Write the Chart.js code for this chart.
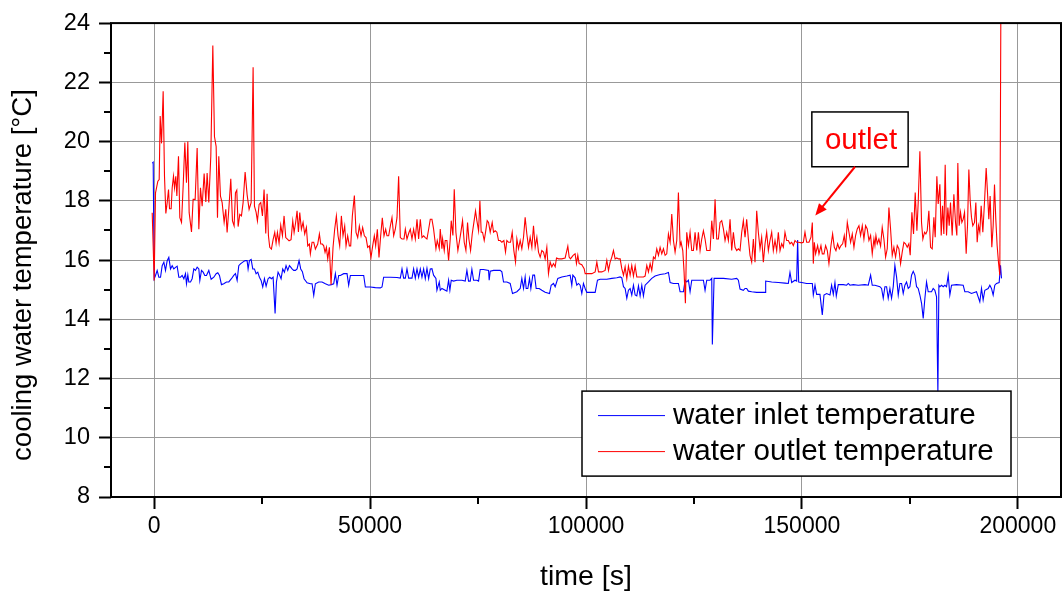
<!DOCTYPE html>
<html>
<head>
<meta charset="utf-8">
<script src="https://cdn.jsdelivr.net/npm/chart.js@4.4.1/dist/chart.umd.min.js"></script>
<style>
  html, body { margin:0; padding:0; background:#fff; }
</style>
</head>
<body>
<canvas id="tempChart" width="1063" height="596"></canvas>
<script>
// ===============================
// DATA
// ===============================
const outletTime = [
  -460,0,310,850,1160,1390,1700,2080,2390,2700,3010,3320,3550,3930,4170,4470,4710,5010,5250,5630,
  5940,6330,6710,7100,7480,7790,8100,8640,9020,9490,9950,10340,10720,11110,11570,11960,12260,12650,13110,13580,
  13960,14350,14660,14960,15350,15740,16200,16580,16890,17280,17740,18130,18510,18820,19130,19440,19820,20210,20590,21060,
  21520,21980,22450,22910,23220,23600,23910,24300,24680,25070,25450,25840,26150,26460,26760,27150,27540,27920,28230,28540,
  28920,29310,29700,30080,30470,30850,31240,31700,32090,32400,32780,33090,33400,33710,34090,34480,34860,35250,35560,35940,
  36170,36560,36950,37330,37870,38260,38570,38950,39260,39570,39880,40190,40570,40960,41420,41800,42190,42580,42960,43350,
  43730,44120,44430,44810,45200,45510,45890,46360,46740,47130,47510,47900,48280,48670,49060,49440,49830,50210,50600,50980,
  51290,51680,52060,52450,52830,53220,53610,53910,54300,54690,55070,55460,55840,56230,56610,57000,57390,57850,58160,58540,
  59000,59310,59700,60080,60470,60860,61240,61630,62010,62400,62780,63170,63560,63940,64320,64700,65250,65550,66020,66250,
  66630,66790,67170,67400,67790,68180,68560,68790,69180,69490,69870,70330,70720,71030,71410,71800,72190,72570,72880,73270,
  73650,74040,74420,74730,75120,75430,75730,76040,76430,76740,77120,77430,77820,78280,78590,78970,79360,79740,80130,80520,
  80980,81360,81670,82060,82520,82910,83290,83680,83990,84370,84760,85140,85530,85910,86300,86690,87070,87460,87840,88230,
  88620,89000,89390,89770,90160,90540,90930,91310,91700,92090,92470,92860,93170,93630,94400,95170,95790,96100,96400,96710,
  97020,97480,97790,98100,98410,99030,99570,99810,100580,101350,102120,102510,102890,103660,104430,104820,105210,105590,105980,106360,
  106750,107130,107520,107910,108290,108680,109060,109450,109830,110220,110600,110990,111380,111760,112530,113300,113690,114080,114460,114850,
  115230,115620,116000,116390,116780,117160,117550,117930,118320,118700,119090,119480,119860,120250,120630,121020,121400,121790,122020,122410,
  122710,123020,123330,123720,124100,124490,124870,125260,125650,126030,126420,126800,127190,127570,127960,128350,128730,129120,129500,129890,
  130270,130660,131040,131430,131820,132200,132590,132970,133360,133740,134130,134510,134900,135290,135670,136060,136440,136830,137210,137600,
  137980,138370,138760,139140,139530,139910,140300,140680,141070,141460,141840,142230,142610,143000,143380,143770,144160,144540,144930,145310,
  145700,146080,146470,146850,147240,147630,148010,148400,148780,149170,149940,150330,150710,151100,151640,152100,152410,152640,152870,153180,
  153640,153950,154410,154720,155110,155490,155880,156260,156730,157110,157500,157880,158270,158660,159040,159430,159810,160120,160510,160890,
  161280,161660,162050,162440,162820,163210,163590,163980,164360,164750,165130,165520,165910,166290,166680,166910,167140,167450,167830,168220,
  168600,168990,169380,169760,170150,170530,170920,171300,171690,172080,172460,172850,173230,173620,174000,174390,174770,175080,175470,175850,
  176240,176630,176930,177320,177700,178010,178400,178710,179020,179400,179790,180170,180560,180870,181250,181560,181950,182260,182560,182870,
  183180,183490,183800,184110,184410,184800,185190,185570,185880,186110,186420,186730,187040,187350,187660,188040,188350,188660,188970,189270,
  189580,189970,190280,190590,190890,191200,191510,191900,192280,192670,192980,193280,193590,193980,194290,194600,194900,195210,195520,195830,
  196060
];
const outletTemp = [
  17.60,15.31,18.27,18.66,18.72,20.86,19.94,21.70,18.83,17.57,17.94,18.38,17.73,17.73,18.44,18.83,18.44,18.83,18.16,19.50,
  17.43,17.27,18.49,19.97,18.61,20.00,17.60,16.95,18.05,18.05,19.78,17.04,18.44,17.82,18.92,17.96,18.94,17.94,19.50,23.24,
  20.17,19.83,17.43,19.50,18.16,17.94,17.27,17.71,16.93,17.71,18.74,17.32,17.15,18.27,18.36,17.13,17.54,17.49,17.94,18.97,
  18.21,17.71,17.94,22.51,17.82,17.62,17.32,17.88,17.94,17.49,18.38,16.90,18.24,16.82,16.43,16.37,16.69,16.93,16.57,16.93,
  16.57,17.18,16.82,17.49,16.76,16.71,16.65,16.69,17.32,16.93,17.29,17.66,16.95,17.60,17.04,17.27,16.88,17.10,16.48,16.54,
  16.21,16.60,16.60,16.37,16.54,16.88,16.54,16.54,16.48,16.26,16.43,16.04,16.43,15.17,16.43,17.04,17.49,16.82,16.48,17.49,
  16.82,17.15,16.48,16.82,16.48,16.48,17.49,18.18,16.93,16.76,17.15,16.82,17.10,16.82,16.76,16.43,16.48,16.09,16.48,16.82,
  16.48,17.04,16.09,16.82,17.43,16.82,17.04,16.82,16.82,17.15,17.43,16.82,17.04,17.43,18.83,16.76,16.71,16.71,17.04,16.71,
  16.93,17.04,16.71,17.04,16.71,17.38,16.71,17.38,16.76,16.82,16.76,16.71,17.04,17.38,17.38,17.05,16.38,16.66,16.38,17.05,
  16.38,16.71,16.32,16.66,16.66,15.99,16.71,17.33,16.83,18.39,16.94,16.32,16.66,16.94,17.33,16.60,16.32,17.27,16.71,16.32,
  16.88,17.27,17.66,17.33,16.99,18.00,16.94,16.94,16.66,16.94,17.33,17.27,16.94,17.27,16.94,16.99,16.94,16.66,16.66,16.60,
  16.66,16.27,16.66,16.60,16.60,16.94,16.32,15.93,16.71,16.38,16.66,16.38,16.77,17.44,16.88,16.43,16.77,16.43,17.16,16.43,
  16.77,16.27,16.10,16.32,16.27,16.04,16.43,15.54,15.93,15.77,15.88,15.77,16.07,16.04,16.04,16.07,16.47,16.10,16.04,16.10,
  16.16,16.21,15.88,16.16,15.88,15.84,15.71,15.54,15.54,15.54,15.60,15.93,15.60,15.60,15.65,15.99,15.65,15.93,16.10,16.32,
  16.04,16.07,16.04,16.04,15.71,15.49,15.77,15.37,15.80,15.49,15.82,15.46,15.80,15.43,15.43,15.43,15.46,15.82,15.60,15.88,
  15.65,16.10,16.04,16.38,16.16,16.43,16.21,16.38,16.16,16.21,16.88,16.60,17.55,16.66,16.27,16.66,18.28,16.49,16.60,16.32,
  15.60,14.54,16.94,16.49,16.94,16.32,16.32,16.94,16.32,16.94,16.32,16.71,16.99,16.71,16.32,16.32,16.32,17.33,16.71,18.05,
  16.71,16.71,17.27,17.33,17.05,16.66,16.94,16.66,17.38,16.32,16.94,16.43,16.32,16.38,16.32,16.94,17.33,16.77,17.38,16.71,
  16.16,15.93,16.71,15.93,17.66,16.94,16.38,16.77,15.93,16.55,16.94,16.32,16.66,16.94,16.32,16.66,16.32,16.94,16.32,16.55,
  16.43,16.94,16.66,16.66,16.55,16.60,16.49,16.66,16.60,16.60,16.58,16.60,16.94,16.60,16.60,16.77,17.27,15.88,16.60,16.21,
  16.49,16.21,16.49,16.21,16.21,16.49,16.32,15.88,16.49,16.88,16.43,16.32,16.55,16.38,16.49,16.55,16.83,16.43,17.27,16.94,
  16.60,16.88,16.43,16.83,17.05,17.16,16.83,17.16,16.71,17.16,17.05,16.66,16.83,16.21,16.71,16.49,16.83,16.55,16.71,16.47,
  17.10,16.71,16.10,16.38,17.77,17.05,16.16,16.43,16.10,16.49,16.38,15.88,16.27,16.60,16.55,16.43,16.55,16.16,17.61,16.88,
  18.28,16.99,17.94,19.67,17.27,16.71,16.94,16.88,16.99,17.66,16.43,16.38,17.44,16.77,18.83,17.89,18.56,16.83,17.83,16.88,
  19.22,16.83,17.77,17.16,17.94,16.83,18.22,17.27,16.83,19.28,17.16,17.61,17.27,17.38,17.61,16.21,17.16,19.06,18.00,17.44,
  17.16,17.27,17.94,16.60,17.16,16.94,17.83,16.94,17.94,19.11,18.28,17.38,18.16,16.43,17.16,18.55,17.38,16.49,15.93,15.49,
  24.00
];

const inletTime = [
  -460,-230,0,310,690,1080,1470,1850,2240,2620,3010,3390,3780,4170,4550,5010,5320,5710,6090,6480,
  6870,7250,7480,7790,8020,8410,8790,9180,9560,9950,10340,10570,10950,11340,11720,12110,12650,13190,13810,14350,
  14730,15120,15580,16120,16740,17280,17890,18430,18820,19210,19590,19980,20520,21060,21520,21750,22060,22450,22830,23220,
  23600,23990,24370,24760,25140,25530,25920,26380,26760,27150,27540,28000,28310,28690,29080,29390,29770,30160,30540,30930,
  31320,31620,31930,32320,32700,33090,33550,33940,34320,34710,35400,36170,36560,36950,37330,38100,38870,39650,40420,41030,
  41570,41960,42340,42730,43120,43890,44660,45040,45430,46200,47740,48520,48900,50060,51210,52370,52760,53140,54690,56230,
  57000,57390,57770,58160,58540,58930,59700,60080,60470,60860,61240,61630,62010,62400,62780,63170,63560,63940,64320,64700,
  65250,65480,66020,66250,66630,67400,67790,68180,68480,68790,69330,70100,71260,72030,72420,72800,73190,73570,73960,74730,
  75120,75500,76270,77430,77580,77820,78590,80130,80520,80900,81670,82440,82980,83990,84760,85140,85530,85910,86150,86530,
  86920,87230,87690,88080,88460,89160,89770,90540,91550,91930,92470,92860,93470,94400,95560,96330,96710,96950,97480,97870,
  98260,98640,99030,99410,99800,100190,100960,102120,102660,103280,104820,105980,107130,107910,108290,108680,109060,109450,109830,110220,
  110600,110990,111380,111760,112150,112530,112920,113300,113690,114460,115230,116000,117160,118320,119090,119480,120250,121400,121790,122560,
  122950,123330,123720,124100,124490,125650,127190,127570,127960,128730,129120,129260,129660,131820,133740,134900,135290,135670,136440,136830,
  137210,137600,138370,139530,141460,141610,143000,144540,146080,146850,147240,147630,148400,148780,149010,149250,149940,151100,152410,152640,
  153030,153410,154180,154720,155110,155720,156500,156880,157270,157650,157960,158420,159580,160350,160740,161120,161900,163050,164590,165370,
  165910,166290,166910,168060,168450,168840,169220,169610,169990,170380,170760,171150,171530,171920,172310,172690,173080,173460,173850,174230,
  174620,175010,175390,175780,176160,176550,176930,177320,177710,178090,178480,178860,179250,180020,180400,180790,181180,181490,181720,181950,
  182330,182720,183100,183490,183880,184260,184650,185800,187350,187730,188500,189270,190430,191200,191590,191970,192360,193130,193520,193900,
  194290,194670,195060,195680,195990,196220
];
const inletTemp = [
  19.27,19.30,15.37,15.48,15.65,15.42,15.42,15.81,15.93,15.65,15.98,16.09,15.70,15.81,15.70,15.76,15.79,15.42,15.42,15.48,
  15.37,15.54,15.20,15.50,15.26,15.26,15.37,15.70,15.65,15.76,15.70,15.31,15.65,15.59,15.48,15.48,15.65,15.35,15.42,15.54,
  15.57,15.48,15.17,15.20,15.26,15.26,15.37,15.48,15.54,15.31,15.81,15.87,15.93,15.98,15.98,15.70,15.98,16.02,15.70,15.70,
  15.54,15.59,15.42,15.31,15.09,15.37,15.12,15.37,15.42,15.37,15.42,14.20,15.26,15.59,15.48,15.37,15.70,15.59,15.81,15.65,
  15.81,15.76,15.70,15.65,15.65,15.70,15.98,15.70,15.61,15.37,15.23,15.20,15.20,14.81,15.20,15.26,15.26,15.20,15.15,15.17,
  15.20,15.54,15.15,15.48,15.48,15.54,15.54,15.15,15.48,15.48,15.48,15.48,15.09,15.09,15.07,15.06,15.09,15.42,15.42,15.41,
  15.39,15.70,15.39,15.39,15.70,15.39,15.39,15.70,15.39,15.70,15.42,15.70,15.42,15.70,15.37,15.72,15.37,15.70,15.71,15.49,
  15.38,14.98,15.26,14.98,15.04,14.98,14.95,15.32,14.98,15.32,15.29,15.32,15.32,15.29,15.65,15.29,15.29,15.69,15.32,15.32,
  15.29,15.68,15.68,15.65,15.32,15.62,15.65,15.65,15.60,15.26,15.26,15.21,14.87,14.93,15.04,15.38,15.04,15.43,15.04,15.04,
  15.38,15.04,15.49,15.49,15.04,15.04,14.98,14.91,14.87,15.15,15.21,15.10,15.38,15.43,15.46,15.49,15.15,15.49,15.40,15.15,
  15.21,15.15,14.87,15.21,15.04,14.91,14.91,14.91,15.32,15.35,15.35,15.38,15.40,15.43,15.40,15.10,15.04,14.71,14.98,15.04,
  14.82,15.15,14.82,14.79,15.13,14.79,15.15,14.79,15.15,15.26,15.38,15.46,15.51,15.54,15.58,15.24,15.21,15.21,14.93,14.93,
  15.32,15.26,15.32,14.93,15.32,15.32,15.32,14.98,15.32,15.32,15.38,13.15,15.38,15.38,15.35,15.38,15.32,15.02,14.98,15.04,
  15.04,14.95,14.93,14.91,14.91,15.29,15.26,15.24,15.22,15.21,15.58,15.24,15.32,15.29,16.68,15.26,15.24,15.21,15.21,14.82,
  15.15,14.84,14.84,14.15,14.82,14.87,14.82,15.15,14.84,15.24,14.79,15.17,15.17,15.15,15.21,15.15,15.17,15.15,15.17,15.15,
  15.49,15.15,15.15,15.10,15.04,14.71,15.10,15.10,14.71,15.04,14.71,15.10,15.82,15.43,14.82,15.21,15.21,14.87,15.15,15.26,
  15.04,15.10,15.49,15.62,15.49,15.10,15.04,14.82,14.54,14.03,14.71,15.26,14.93,14.93,15.04,14.98,14.76,11.50,15.15,15.10,
  15.15,15.10,15.15,15.10,15.49,14.82,15.15,15.17,15.15,14.93,14.93,14.87,14.93,14.59,15.04,14.65,14.98,15.04,15.15,15.04,
  14.82,15.15,15.21,15.24,15.82,15.38
];

const xTicks = [0, 50000, 100000, 150000, 200000];
const xMinor = [25000, 75000, 125000, 175000];
const yTicks = [8, 10, 12, 14, 16, 18, 20, 22, 24];
const yMinor = [9, 11, 13, 15, 17, 19, 21, 23];

const seriesNames = ['water inlet temperature', 'water outlet temperature'];
const yTitle = 'cooling water temperature [°C]';
const xTitle = 'time [s]';
const noteText = 'outlet';

// ===============================
// HELPERS
// ===============================
function toPoints(xs, ys){
  return xs.map((x, i) => ({ x: x, y: ys[i] }));
}

const FONT = '"Liberation Sans", Arial, sans-serif';
Chart.defaults.font.family = FONT;
Chart.defaults.color = '#000';

// annotation box + arrow, in data units
const note = {
  x0: 152300, x1: 174600, yTop: 21.0, yBottom: 19.15,
  fromX: 162300, fromY: 19.15, toX: 153100, toY: 17.5
};

// ===============================
// PLUGIN: frame, minor ticks, legend, note, y title
// ===============================
const decorPlugin = {
  id: 'decor',
  afterDraw(chart){
    const { ctx, chartArea: a, scales: { x, y } } = chart;
    ctx.save();

    // y axis title (a bit below the axis centre, as in the original)
    ctx.save();
    ctx.translate(23, (a.top + a.bottom) / 2 + 15);
    ctx.rotate(-Math.PI / 2);
    ctx.fillStyle = '#000';
    ctx.font = '27.5px ' + FONT;
    ctx.textAlign = 'center';
    ctx.textBaseline = 'middle';
    ctx.fillText(yTitle, 0, 0);
    ctx.restore();

    // legend box
    const lx = a.left + 471, ly = a.top + 368, lw = 429, lh = 85;
    ctx.fillStyle = '#fff';
    ctx.fillRect(lx, ly, lw, lh);
    ctx.strokeStyle = '#000';
    ctx.lineWidth = 1.5;
    ctx.strokeRect(lx, ly, lw, lh);

    const legendColors = ['#0000ff', '#ff0000'];
    seriesNames.forEach((name, i) => {
      const rowY = ly + 24 + i * 36;
      ctx.strokeStyle = legendColors[i];
      ctx.lineWidth = 1;
      ctx.beginPath();
      ctx.moveTo(lx + 16, rowY + 0.5);
      ctx.lineTo(lx + 83, rowY + 0.5);
      ctx.stroke();
      ctx.fillStyle = '#000';
      ctx.font = '29.6px ' + FONT;
      ctx.textBaseline = 'alphabetic';
      ctx.textAlign = 'left';
      ctx.fillText(name, lx + 91, rowY + 9);
    });

    // note box "outlet"
    const bx0 = x.getPixelForValue(note.x0), bx1 = x.getPixelForValue(note.x1);
    const by0 = y.getPixelForValue(note.yTop), by1 = y.getPixelForValue(note.yBottom);
    ctx.fillStyle = '#fff';
    ctx.fillRect(bx0, by0, bx1 - bx0, by1 - by0);
    ctx.strokeStyle = '#000';
    ctx.lineWidth = 1.5;
    ctx.strokeRect(bx0, by0, bx1 - bx0, by1 - by0);
    ctx.fillStyle = '#ff0000';
    ctx.font = '29.5px ' + FONT;
    ctx.textAlign = 'center';
    ctx.fillText(noteText, (bx0 + bx1) / 2 + 1, by0 + 37);

    // arrow
    const ax0 = x.getPixelForValue(note.fromX), ay0 = y.getPixelForValue(note.fromY);
    const ax1 = x.getPixelForValue(note.toX), ay1 = y.getPixelForValue(note.toY);
    const ang = Math.atan2(ay1 - ay0, ax1 - ax0);
    const headLen = 12, headW = 5;
    ctx.strokeStyle = '#ff0000';
    ctx.lineWidth = 2;
    ctx.beginPath();
    ctx.moveTo(ax0, ay0);
    ctx.lineTo(ax1 - Math.cos(ang) * headLen * 0.8, ay1 - Math.sin(ang) * headLen * 0.8);
    ctx.stroke();
    ctx.fillStyle = '#ff0000';
    ctx.beginPath();
    ctx.moveTo(ax1, ay1);
    ctx.lineTo(ax1 - Math.cos(ang) * headLen + Math.sin(ang) * headW, ay1 - Math.sin(ang) * headLen - Math.cos(ang) * headW);
    ctx.lineTo(ax1 - Math.cos(ang) * headLen - Math.sin(ang) * headW, ay1 - Math.sin(ang) * headLen + Math.cos(ang) * headW);
    ctx.closePath();
    ctx.fill();

    // minor ticks
    ctx.strokeStyle = '#000';
    ctx.lineWidth = 2;
    ctx.beginPath();
    xMinor.forEach(v => {
      const px = Math.round(x.getPixelForValue(v));
      ctx.moveTo(px, a.bottom);
      ctx.lineTo(px, a.bottom + 7);
    });
    yMinor.forEach(v => {
      const py = Math.round(y.getPixelForValue(v));
      ctx.moveTo(a.left, py);
      ctx.lineTo(a.left - 7, py);
    });
    ctx.stroke();

    // frame
    ctx.lineWidth = 2;
    ctx.strokeRect(a.left, a.top, a.right - a.left, a.bottom - a.top);

    ctx.restore();
  }
};

// ===============================
// CHART
// ===============================
const ctx = document.getElementById('tempChart');

new Chart(ctx, {
  type: 'line',
  data: {
    datasets: [
      {
        label: seriesNames[1],
        data: toPoints(outletTime, outletTemp),
        borderColor: '#ff0000',
        borderWidth: 1.1,
        pointRadius: 0,
        tension: 0,
        fill: false
      },
      {
        label: seriesNames[0],
        data: toPoints(inletTime, inletTemp),
        borderColor: '#0000ff',
        borderWidth: 1.1,
        pointRadius: 0,
        tension: 0,
        fill: false
      }
    ]
  },
  options: {
    responsive: false,
    animation: false,
    devicePixelRatio: 1,
    layout: { padding: { top: 19, right: 2, left: 0, bottom: 0 } },
    plugins: {
      legend: { display: false },
      tooltip: { enabled: false }
    },
    scales: {
      x: {
        type: 'linear',
        min: -10000,
        max: 210000,
        afterBuildTicks: s => { s.ticks = xTicks.map(v => ({ value: v })); },
        afterFit: s => { s.height = 99; },
        grid: { color: '#999999', lineWidth: 1, tickColor: '#000', tickLength: 12, tickWidth: 2 },
        border: { display: false },
        ticks: {
          color: '#000', font: { size: 23 }, padding: 4,
          maxRotation: 0, autoSkip: false,
          callback: v => String(v)
        },
        title: {
          display: true, text: xTitle, color: '#000',
          font: { size: 28.5 }, padding: { top: 0, bottom: 2 }
        }
      },
      y: {
        min: 8,
        max: 24,
        afterBuildTicks: s => { s.ticks = yTicks.map(v => ({ value: v })); },
        afterFit: s => { s.width = 111; },
        grid: { color: '#999999', lineWidth: 1, tickColor: '#000', tickLength: 12, tickWidth: 2 },
        border: { display: false },
        ticks: {
          color: '#000', font: { size: 23.5 }, padding: 9,
          callback: v => String(v)
        },
        title: { display: false }
      }
    }
  },
  plugins: [decorPlugin]
});
</script>
</body>
</html>
